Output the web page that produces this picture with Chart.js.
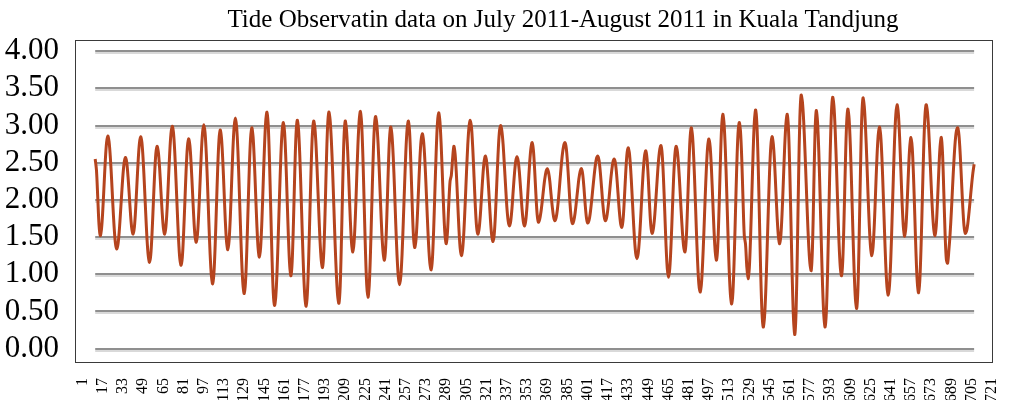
<!DOCTYPE html>
<html>
<head>
<meta charset="utf-8">
<script src="https://cdn.jsdelivr.net/npm/chart.js@4.4.0/dist/chart.umd.min.js"></script>
<style>
  html, body { margin: 0; padding: 0; background: #fff; }
  #wrap { width: 1019px; height: 400px; }
</style>
</head>
<body>
<div id="wrap"><canvas id="chart"></canvas></div>
<script>
// hourly tide level (m), first reading sits at hour 11 on the axis
const firstHour = 11;
const observed = [
  2.55, 2.40, 2.04, 1.67, 1.52,
  1.61, 1.86, 2.19, 2.53, 2.77, 2.86,
  2.78, 2.57, 2.27, 1.93, 1.63, 1.42, 1.34,
  1.40, 1.57, 1.82, 2.09, 2.34, 2.51, 2.57,
  2.50, 2.31, 2.06, 1.80, 1.61, 1.54,
  1.63, 1.87, 2.20, 2.52, 2.76, 2.85,
  2.77, 2.53, 2.19, 1.82, 1.48, 1.25, 1.16,
  1.26, 1.55, 1.94, 2.33, 2.62, 2.72,
  2.64, 2.43, 2.13, 1.84, 1.62, 1.54,
  1.64, 1.90, 2.27, 2.63, 2.89, 2.99,
  2.90, 2.64, 2.26, 1.85, 1.47, 1.21, 1.12,
  1.23, 1.55, 1.97, 2.40, 2.71, 2.82,
  2.73, 2.47, 2.13, 1.78, 1.52, 1.43,
  1.54, 1.83, 2.22, 2.62, 2.90, 3.01,
  2.90, 2.61, 2.18, 1.70, 1.27, 0.98, 0.87,
  1.01, 1.39, 1.91, 2.42, 2.80, 2.94,
  2.83, 2.54, 2.14, 1.73, 1.44, 1.33,
  1.45, 1.77, 2.22, 2.66, 2.98, 3.10,
  2.98, 2.66, 2.18, 1.66, 1.18, 0.86, 0.74,
  0.89, 1.30, 1.86, 2.41, 2.82, 2.97,
  2.85, 2.53, 2.10, 1.67, 1.35, 1.23,
  1.36, 1.72, 2.21, 2.69, 3.05, 3.18,
  3.01, 2.53, 1.88, 1.23, 0.75, 0.58,
  0.70, 1.04, 1.54, 2.08, 2.58, 2.92, 3.04,
  2.90, 2.53, 2.01, 1.50, 1.12, 0.98,
  1.18, 1.70, 2.35, 2.87, 3.07,
  2.95, 2.60, 2.10, 1.54, 1.04, 0.70, 0.57,
  0.74, 1.19, 1.82, 2.44, 2.89, 3.06,
  2.96, 2.69, 2.29, 1.86, 1.46, 1.19, 1.09,
  1.29, 1.81, 2.46, 2.98, 3.18,
  3.08, 2.80, 2.39, 1.90, 1.40, 0.99, 0.71, 0.61,
  0.84, 1.46, 2.21, 2.83, 3.06,
  2.94, 2.62, 2.18, 1.74, 1.42, 1.30,
  1.43, 1.77, 2.25, 2.72, 3.06, 3.19,
  3.02, 2.57, 1.94, 1.32, 0.86, 0.69,
  0.85, 1.30, 1.91, 2.51, 2.96, 3.12,
  3.02, 2.76, 2.37, 1.94, 1.55, 1.29, 1.19,
  1.36, 1.81, 2.36, 2.81, 2.98,
  2.87, 2.58, 2.16, 1.68, 1.26, 0.97, 0.86,
  0.97, 1.27, 1.72, 2.20, 2.65, 2.95, 3.06,
  2.90, 2.47, 1.95, 1.52, 1.36,
  1.46, 1.74, 2.13, 2.51, 2.79, 2.89,
  2.80, 2.55, 2.18, 1.77, 1.40, 1.15, 1.06,
  1.20, 1.59, 2.12, 2.64, 3.03, 3.17,
  3.05, 2.73, 2.29, 1.85, 1.53, 1.41,
  1.58, 1.95, 2.25, 2.33, 2.55, 2.72,
  2.62, 2.35, 1.99, 1.62, 1.35, 1.25,
  1.34, 1.59, 1.96, 2.36, 2.73, 2.98, 3.07,
  2.97, 2.69, 2.31, 1.92, 1.64, 1.54,
  1.61, 1.80, 2.07, 2.33, 2.52, 2.59,
  2.51, 2.30, 2.02, 1.73, 1.52, 1.44,
  1.54, 1.83, 2.22, 2.61, 2.90, 3.00,
  2.93, 2.75, 2.47, 2.18, 1.90, 1.72, 1.65,
  1.71, 1.88, 2.12, 2.35, 2.52, 2.58,
  2.52, 2.35, 2.12, 1.88, 1.71, 1.65,
  1.73, 1.93, 2.21, 2.49, 2.69, 2.77,
  2.67, 2.40, 2.07, 1.80, 1.70,
  1.74, 1.84, 1.98, 2.14, 2.28, 2.38, 2.42,
  2.37, 2.25, 2.07, 1.90, 1.77, 1.72,
  1.76, 1.87, 2.04, 2.25, 2.45, 2.62, 2.73, 2.77,
  2.70, 2.50, 2.23, 1.95, 1.75, 1.68,
  1.72, 1.82, 1.97, 2.13, 2.28, 2.38, 2.42,
  2.35, 2.17, 1.94, 1.76, 1.69,
  1.72, 1.82, 1.97, 2.14, 2.31, 2.46, 2.56, 2.59,
  2.53, 2.37, 2.16, 1.94, 1.78, 1.72,
  1.76, 1.88, 2.04, 2.23, 2.39, 2.51, 2.55,
  2.49, 2.32, 2.09, 1.86, 1.69, 1.63,
  1.73, 2.00, 2.33, 2.60, 2.70,
  2.63, 2.42, 2.12, 1.79, 1.49, 1.28, 1.21,
  1.28, 1.48, 1.77, 2.10, 2.39, 2.59, 2.66,
  2.55, 2.28, 1.93, 1.65, 1.55,
  1.61, 1.77, 2.01, 2.27, 2.51, 2.67, 2.73,
  2.61, 2.29, 1.85, 1.40, 1.08, 0.96,
  1.08, 1.40, 1.84, 2.28, 2.60, 2.72,
  2.65, 2.45, 2.17, 1.85, 1.57, 1.37, 1.30,
  1.46, 1.88, 2.39, 2.81, 2.97,
  2.86, 2.55, 2.11, 1.62, 1.18, 0.87, 0.76,
  0.86, 1.15, 1.56, 2.02, 2.43, 2.72, 2.82,
  2.71, 2.41, 2.01, 1.60, 1.30, 1.19,
  1.38, 1.87, 2.47, 2.96, 3.15,
  3.02, 2.67, 2.16, 1.59, 1.08, 0.73, 0.60,
  0.76, 1.21, 1.82, 2.43, 2.88, 3.04,
  2.92, 2.55, 2.00, 1.52, 1.40, 1.10, 0.94,
  1.09, 1.51, 2.08, 2.64, 3.06, 3.21,
  3.01, 2.48, 1.75, 1.02, 0.49, 0.29,
  0.42, 0.77, 1.29, 1.85, 2.37, 2.72, 2.85,
  2.75, 2.49, 2.13, 1.77, 1.51, 1.41,
  1.53, 1.85, 2.28, 2.72, 3.03, 3.15,
  2.95, 2.41, 1.67, 0.93, 0.39, 0.19,
  0.50, 1.30, 2.30, 3.10, 3.41,
  3.32, 3.07, 2.68, 2.23, 1.78, 1.39, 1.14, 1.05,
  1.36, 2.13, 2.89, 3.20,
  3.05, 2.65, 2.07, 1.42, 0.84, 0.44, 0.29,
  0.50, 1.06, 1.84, 2.61, 3.17, 3.38,
  3.26, 2.93, 2.45, 1.91, 1.43, 1.10, 0.98,
  1.19, 1.75, 2.45, 3.01, 3.22,
  3.09, 2.72, 2.18, 1.58, 1.04, 0.67, 0.54,
  0.81, 1.52, 2.39, 3.10, 3.37,
  3.26, 2.97, 2.55, 2.07, 1.65, 1.36, 1.25,
  1.37, 1.68, 2.12, 2.55, 2.86, 2.98,
  2.87, 2.56, 2.10, 1.60, 1.14, 0.83, 0.72,
  0.85, 1.20, 1.72, 2.28, 2.80, 3.15, 3.28,
  3.16, 2.84, 2.40, 1.95, 1.63, 1.51,
  1.64, 1.97, 2.38, 2.71, 2.84,
  2.70, 2.32, 1.80, 1.27, 0.89, 0.75,
  0.92, 1.38, 2.02, 2.65, 3.11, 3.28,
  3.19, 2.95, 2.60, 2.20, 1.85, 1.61, 1.52,
  1.65, 1.98, 2.38, 2.71, 2.84,
  2.62, 2.10, 1.55, 1.20, 1.15, 1.32,
  1.55, 1.85, 2.20, 2.52, 2.78, 2.93, 2.97,
  2.87, 2.61, 2.26, 1.91, 1.65, 1.55,
  1.58, 1.68, 1.84, 2.02, 2.20, 2.36, 2.48
];

const xTickLabels = [1, 17, 33, 49, 65, 81, 97, 113, 129, 145, 161, 177, 193, 209, 225, 241,
  257, 273, 289, 305, 321, 337, 353, 369, 385, 401, 417, 433, 449, 465, 481, 497, 513, 529,
  545, 561, 577, 593, 609, 625, 641, 657, 673, 689, 705, 721];
const yTickLabels = [0, 0.5, 1, 1.5, 2, 2.5, 3, 3.5, 4];
const chartTitle = "Tide Observatin data on July 2011-August 2011 in Kuala Tandjung";

const serif = "'Liberation Serif', 'Times New Roman', serif";

// grey gridlines over the span of the readings, and the plot frame
const gridAndFrame = {
  id: "gridAndFrame",
  beforeDatasetsDraw(chart) {
    const { ctx, chartArea, scales } = chart;
    const x0 = scales.x.getPixelForValue(firstHour);
    const x1 = scales.x.getPixelForValue(firstHour + observed.length - 1);
    ctx.save();
    yTickLabels.forEach((v) => {
      const y = Math.round(scales.y.getPixelForValue(v));
      ctx.strokeStyle = "#d9d9d9";
      ctx.lineWidth = 2;
      ctx.beginPath();
      ctx.moveTo(x0, y + 2);
      ctx.lineTo(x1, y + 2);
      ctx.stroke();
      ctx.strokeStyle = "#8f8f8f";
      ctx.beginPath();
      ctx.moveTo(x0, y);
      ctx.lineTo(x1, y);
      ctx.stroke();
    });
    ctx.strokeStyle = "#3a3a3a";
    ctx.lineWidth = 1;
    ctx.strokeRect(Math.round(chartArea.left) + 0.5, Math.round(chartArea.top) + 0.5,
      Math.round(chartArea.width), Math.round(chartArea.height));
    ctx.restore();
  },
};

// title sits a little right of the plot centre, as in the picture
const titleText = {
  id: "titleText",
  afterDraw(chart) {
    const { ctx } = chart;
    ctx.save();
    ctx.fillStyle = "#000";
    ctx.font = "25px " + serif;
    ctx.textAlign = "center";
    ctx.textBaseline = "middle";
    ctx.fillText(chartTitle, 563, 20);
    ctx.restore();
  },
};

new Chart(document.getElementById("chart"), {
  type: "line",
  data: {
    datasets: [{
      label: "Tide",
      data: observed.map((v, i) => ({ x: firstHour + i, y: v })),
      borderColor: "#b5441e",
      borderWidth: 3,
      pointRadius: 0,
      tension: 0.3,
      fill: false,
    }],
  },
  options: {
    responsive: true,
    maintainAspectRatio: false,
    animation: false,
    layout: { padding: { left: 0, right: 8, top: 40, bottom: 0 } },
    plugins: {
      legend: { display: false },
      tooltip: { enabled: false },
    },
    scales: {
      x: {
        type: "linear",
        min: -5,
        max: 721,
        grid: { display: false },
        border: { display: false },
        afterBuildTicks: (axis) => { axis.ticks = xTickLabels.map((v) => ({ value: v })); },
        afterFit: (axis) => { axis.height = 38; },
        ticks: {
          autoSkip: false,
          minRotation: 90,
          maxRotation: 90,
          padding: 8,
          color: "#000",
          font: { family: serif, size: 16 },
          callback: (v) => String(v),
        },
      },
      y: {
        min: -0.18,
        max: 4.15,
        grid: { display: false },
        border: { display: false },
        afterBuildTicks: (axis) => { axis.ticks = yTickLabels.map((v) => ({ value: v })); },
        afterFit: (axis) => { axis.width = 75; },
        ticks: {
          padding: 8,
          color: "#000",
          font: { family: serif, size: 31 },
          callback: (v) => Number(v).toFixed(2),
        },
      },
    },
  },
  plugins: [gridAndFrame, titleText],
});
</script>
</body>
</html>
